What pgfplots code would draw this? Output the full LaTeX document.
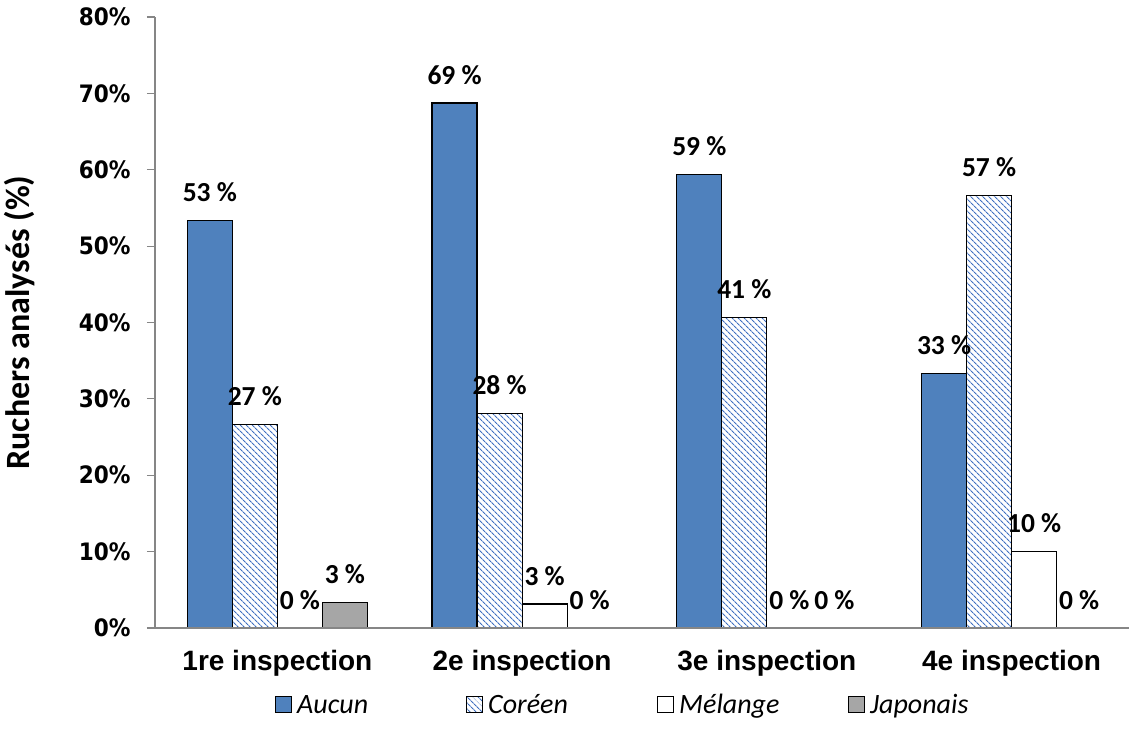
\documentclass[border=0pt]{standalone}
\usepackage{pgfplots}
\pgfplotsset{compat=1.18}
\usetikzlibrary{patterns.meta}
\usepackage{fontspec}
\setmainfont{Liberation Sans}
\newfontfamily\carlito{Carlito}
\newfontfamily\tickfont{DejaVu Sans Condensed}[BoldFont={DejaVu Sans Condensed Bold}]
\definecolor{barblue}{HTML}{4F81BD}
\definecolor{patblue}{HTML}{3F6FC0}
\definecolor{bargray}{HTML}{A6A6A6}
\definecolor{axgray}{HTML}{868686}
\pgfplotstableread{
x aucun laucun coreen lcoreen melange lmelange japonais ljaponais
0 53.33 {53 \%} 26.67 {27 \%} 0 {0 \%} 3.33 {3 \%}
1 68.75 {69 \%} 28.13 {28 \%} 3.13 {3 \%} 0 {0 \%}
2 59.38 {59 \%} 40.63 {41 \%} 0 {0 \%} 0 {0 \%}
3 33.33 {33 \%} 56.67 {57 \%} 10.0 {10 \%} 0 {0 \%}
}\datatable
\pgfplotsset{
  myleg/.style={legend image code/.code={\draw[##1,line width=1pt] (0pt,-8pt) rectangle (16pt,8pt);}},
}
\newcommand{\lgt}[1]{\makebox[170pt][l]{\hspace{3pt}#1}}
\begin{document}
\begin{tikzpicture}
\begin{axis}[
  at={(0,0)}, anchor=south west,
  scale only axis, width=979pt, height=611pt,
  xmin=-0.5, xmax=3.5, ymin=0, ymax=80,
  ybar=0pt, bar width=0.184,
  axis on top,
  axis x line*=bottom, axis y line*=left,
  axis line style={axgray, line width=1.2pt, -},
  xtick={0,1,2,3},
  xticklabels={1re inspection,2e inspection,3e inspection,4e inspection},
  x tick label style={font=\fontsize{28}{32}\selectfont\bfseries, yshift=-11pt},
  major x tick style={draw=none},
  extra x ticks={-0.5,0.5,1.5,2.5},
  extra x tick labels={},
  extra x tick style={major tick length=8pt, tick style={axgray, line width=1.2pt}, tick align=outside},
  ytick={0,10,...,80},
  yticklabels={0\%,10\%,20\%,30\%,40\%,50\%,60\%,70\%,80\%},
  y tick label style={font=\tickfont\fontsize{24}{28}\selectfont\bfseries, xshift=-13pt},
  ytick style={axgray, line width=1.2pt},
  tick align=outside, major tick length=8pt,
  ylabel={Ruchers analysés (\%)},
  ylabel style={font=\carlito\fontsize{34}{38}\selectfont\bfseries, at={(axis description cs:-0.138,0.5)}, anchor=center},
  point meta=explicit symbolic,
  nodes near coords,
  every node near coord/.append style={font=\carlito\fontsize{27.5}{32}\selectfont\bfseries, inner sep=0pt, anchor=south, yshift=18pt, text=black},
  legend columns=4,
  legend style={draw=none, fill=none, at={(axis description cs:0.513,-0.126)}, anchor=center,
    font=\carlito\itshape\fontsize{28}{32}\selectfont, column sep=0pt,
    /tikz/every even column/.style={column sep=0pt}},
  clip=false,
]
\addplot[draw=black, line width=1.2pt, fill=barblue, myleg] table[x=x, y=aucun, meta=laucun] {\datatable};
\addplot[draw=black, line width=1.2pt, pattern={Lines[angle=-45, distance=4pt, line width=1.1pt]}, pattern color=patblue, myleg] table[x=x, y=coreen, meta=lcoreen] {\datatable};
\addplot[draw=black, line width=1.2pt, fill=white, myleg] table[x=x, y=melange, meta=lmelange] {\datatable};
\addplot[draw=black, line width=1.2pt, fill=bargray, myleg] table[x=x, y=japonais, meta=ljaponais] {\datatable};
\legend{\lgt{Aucun},\lgt{Coréen},\lgt{Mélange},\lgt{Japonais}}
\end{axis}
\pgfresetboundingbox
\useasboundingbox (-155pt,-106pt) rectangle (974pt,628pt);
\end{tikzpicture}
\end{document}
